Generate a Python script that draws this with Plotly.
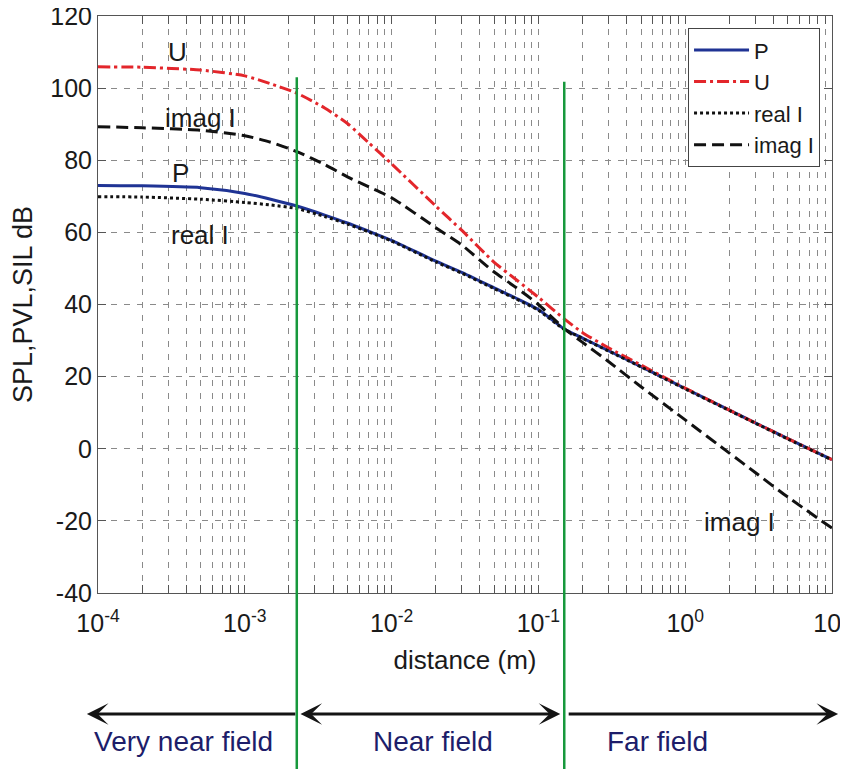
import math
import plotly.graph_objects as go

# ---------------- data ----------------
distance = [1e-4, 2e-4, 5e-4, 1e-3, 1.5e-3, 2.26e-3, 3.5e-3, 5e-3, 7e-3, 1e-2,
            2e-2, 3e-2, 5e-2, 7e-2, 0.1, 0.15, 0.2, 0.3, 0.5, 1, 2, 3, 5, 10]
P = [73.0, 72.9, 72.4, 70.8, 69.2, 67.3, 64.8, 62.6, 60.3, 57.8,
     52.0, 48.9, 44.6, 41.8, 38.6, 33.2, 30.7, 27.2, 22.8, 16.7, 10.7, 7.2, 2.8, -3.0]
U = [105.9, 105.8, 105.0, 103.4, 101.2, 98.6, 94.5, 90.2, 84.8, 79.0,
     67.3, 60.6, 51.7, 47.0, 42.0, 36.0, 32.2, 28.0, 23.2, 16.8, 10.7, 7.2, 2.8, -3.0]
real_I = [69.9, 69.8, 69.2, 68.3, 67.6, 66.6, 64.4, 62.3, 60.1, 57.6,
          51.8, 48.7, 44.4, 41.6, 38.4, 33.1, 30.6, 27.1, 22.7, 16.6, 10.6, 7.1, 2.7, -3.1]
imag_I = [89.3, 89.0, 88.3, 86.8, 85.0, 82.4, 78.8, 75.4, 72.6, 69.6,
          61.3, 56.5, 49.0, 44.8, 40.0, 33.3, 29.5, 24.2, 17.2, 8.0, -1.2, -6.6, -13.4, -22.0]

series_names = ["P", "U", "real I", "imag I"]

x_tickvals = [1e-4, 1e-3, 1e-2, 1e-1, 1e0, 1e1]
x_ticktext = ["10<sup>-4</sup>", "10<sup>-3</sup>", "10<sup>-2</sup>",
              "10<sup>-1</sup>", "10<sup>0</sup>", "10<sup>1</sup>"]
y_tickvals = [-40, -20, 0, 20, 40, 60, 80, 100, 120]
y_ticktext = ["-40", "-20", "0", "20", "40", "60", "80", "100", "120"]

# field boundaries and region extents (m)
boundaries = [2.26e-3, 0.15]
region_edges = [8.4e-5, 2.26e-3, 0.15, 11.0]
region_names = ["Very near field", "Near field", "Far field"]
region_label_x = [3.8e-4, 1.9e-2, 0.65]

# in-plot curve labels
curve_labels = ["U", "imag I", "P", "real I", "imag I"]
curve_label_x = [3.5e-4, 4.96e-4, 3.62e-4, 4.96e-4, 2.33]
curve_label_y = [109.9, 91.7, 76.4, 59.2, -20.2]

# ---------------- styling ----------------
FONT = "Liberation Sans, Arial, Helvetica, sans-serif"
BLUE = "#1f3394"
RED = "#e3262b"
GREEN = "#17983c"
NAVY = "#1d1d6a"
GRID = "#8a8a8a"
AXIS = "#555555"

fig = go.Figure()
styles = {
    "P": dict(color=BLUE, width=3, dash="solid"),
    "U": dict(color=RED, width=3, dash="12px,4px,3px,4px"),
    "real I": dict(color="#111111", width=3, dash="3px,3px"),
    "imag I": dict(color="#111111", width=3, dash="12px,6px"),
}
for name, vals in zip(series_names, [P, U, real_I, imag_I]):
    fig.add_trace(go.Scatter(
        x=distance, y=vals, mode="lines", name=name,
        line=dict(shape="spline", smoothing=0.6, **styles[name]),
    ))

# green boundary lines
tops = [0.894, 0.886]
for b, top in zip(boundaries, tops):
    fig.add_shape(type="line", xref="x", yref="paper", x0=b, x1=b,
                  y0=-0.33, y1=top, line=dict(color=GREEN, width=2.5), layer="above")

# arrows below the plot
ARROW_Y = -0.2097
lg = math.log10
arrow_specs = [
    (lg(region_edges[0]), lg(region_edges[1]), "end"),
    (lg(region_edges[2]) - 0.027, lg(region_edges[1]) + 0.015, "end+start"),
    (lg(region_edges[3]), lg(region_edges[2]) + 0.02, "end"),
]
for tip, tail, side in arrow_specs:
    fig.add_annotation(x=tip, y=ARROW_Y, xref="x", yref="paper",
                       ax=tail, ay=0, axref="x", ayref="pixel",
                       showarrow=True, arrowhead=3, arrowsize=1.2, arrowwidth=3,
                       arrowcolor="#141414", arrowside=side, standoff=0, startstandoff=0,
                       text="")

for name, lx in zip(region_names, region_label_x):
    fig.add_annotation(x=lg(lx), y=-0.2582, xref="x", yref="paper",
                       yanchor="middle", xanchor="center",
                       text=name, showarrow=False,
                       font=dict(family=FONT, size=28, color=NAVY))

for t, lx, ly in zip(curve_labels, curve_label_x, curve_label_y):
    fig.add_annotation(x=lg(lx), y=ly, xref="x", yref="y", text=t, showarrow=False,
                       font=dict(family=FONT, size=26, color="#1a1a1a"))

fig.update_layout(
    width=848, height=769,
    margin=dict(l=90, r=24, t=8, b=184),
    paper_bgcolor="white", plot_bgcolor="white",
    font=dict(family=FONT, color="#1a1a1a"),
    showlegend=True,
    legend=dict(x=0.9837, y=0.979, xanchor="right", yanchor="top",
                bgcolor="white", bordercolor="#444444", borderwidth=1,
                font=dict(family=FONT, size=22, color="#1a1a1a"),
                tracegroupgap=0, itemwidth=55),
    xaxis=dict(
        type="log", range=[-4, 1], tickmode="array",
        tickvals=x_tickvals, ticktext=x_ticktext,
        tickfont=dict(family=FONT, size=25, color="#1a1a1a"),
        ticks="inside", ticklen=8, tickcolor=AXIS, ticklabelstandoff=8,
        ticklabeloverflow="allow",
        showline=True, linecolor=AXIS, linewidth=1, mirror="allticks",
        showgrid=True, gridcolor=GRID, gridwidth=1, griddash="6px,7px",
        minor=dict(dtick="D1", ticks="inside", ticklen=8, tickcolor=AXIS,
                   showgrid=True, gridcolor=GRID, gridwidth=1, griddash="6px,7px"),
        zeroline=False,
        title=dict(text="distance (m)", standoff=14,
                   font=dict(family=FONT, size=26, color="#1a1a1a")),
        automargin=False,
    ),
    yaxis=dict(
        range=[-40, 120], tickmode="array", tickvals=y_tickvals, ticktext=y_ticktext,
        tickfont=dict(family=FONT, size=25, color="#1a1a1a"),
        ticks="inside", ticklen=8, tickcolor=AXIS, ticklabeloverflow="allow",
        showline=True, linecolor=AXIS, linewidth=1, mirror="allticks",
        showgrid=True, gridcolor=GRID, gridwidth=1, griddash="6px,7px",
        zeroline=False,
        title=dict(text="SPL,PVL,SIL dB", standoff=15,
                   font=dict(family=FONT, size=27, color="#1a1a1a")),
        automargin=False,
    ),
)

fig.write_html("out.html")
